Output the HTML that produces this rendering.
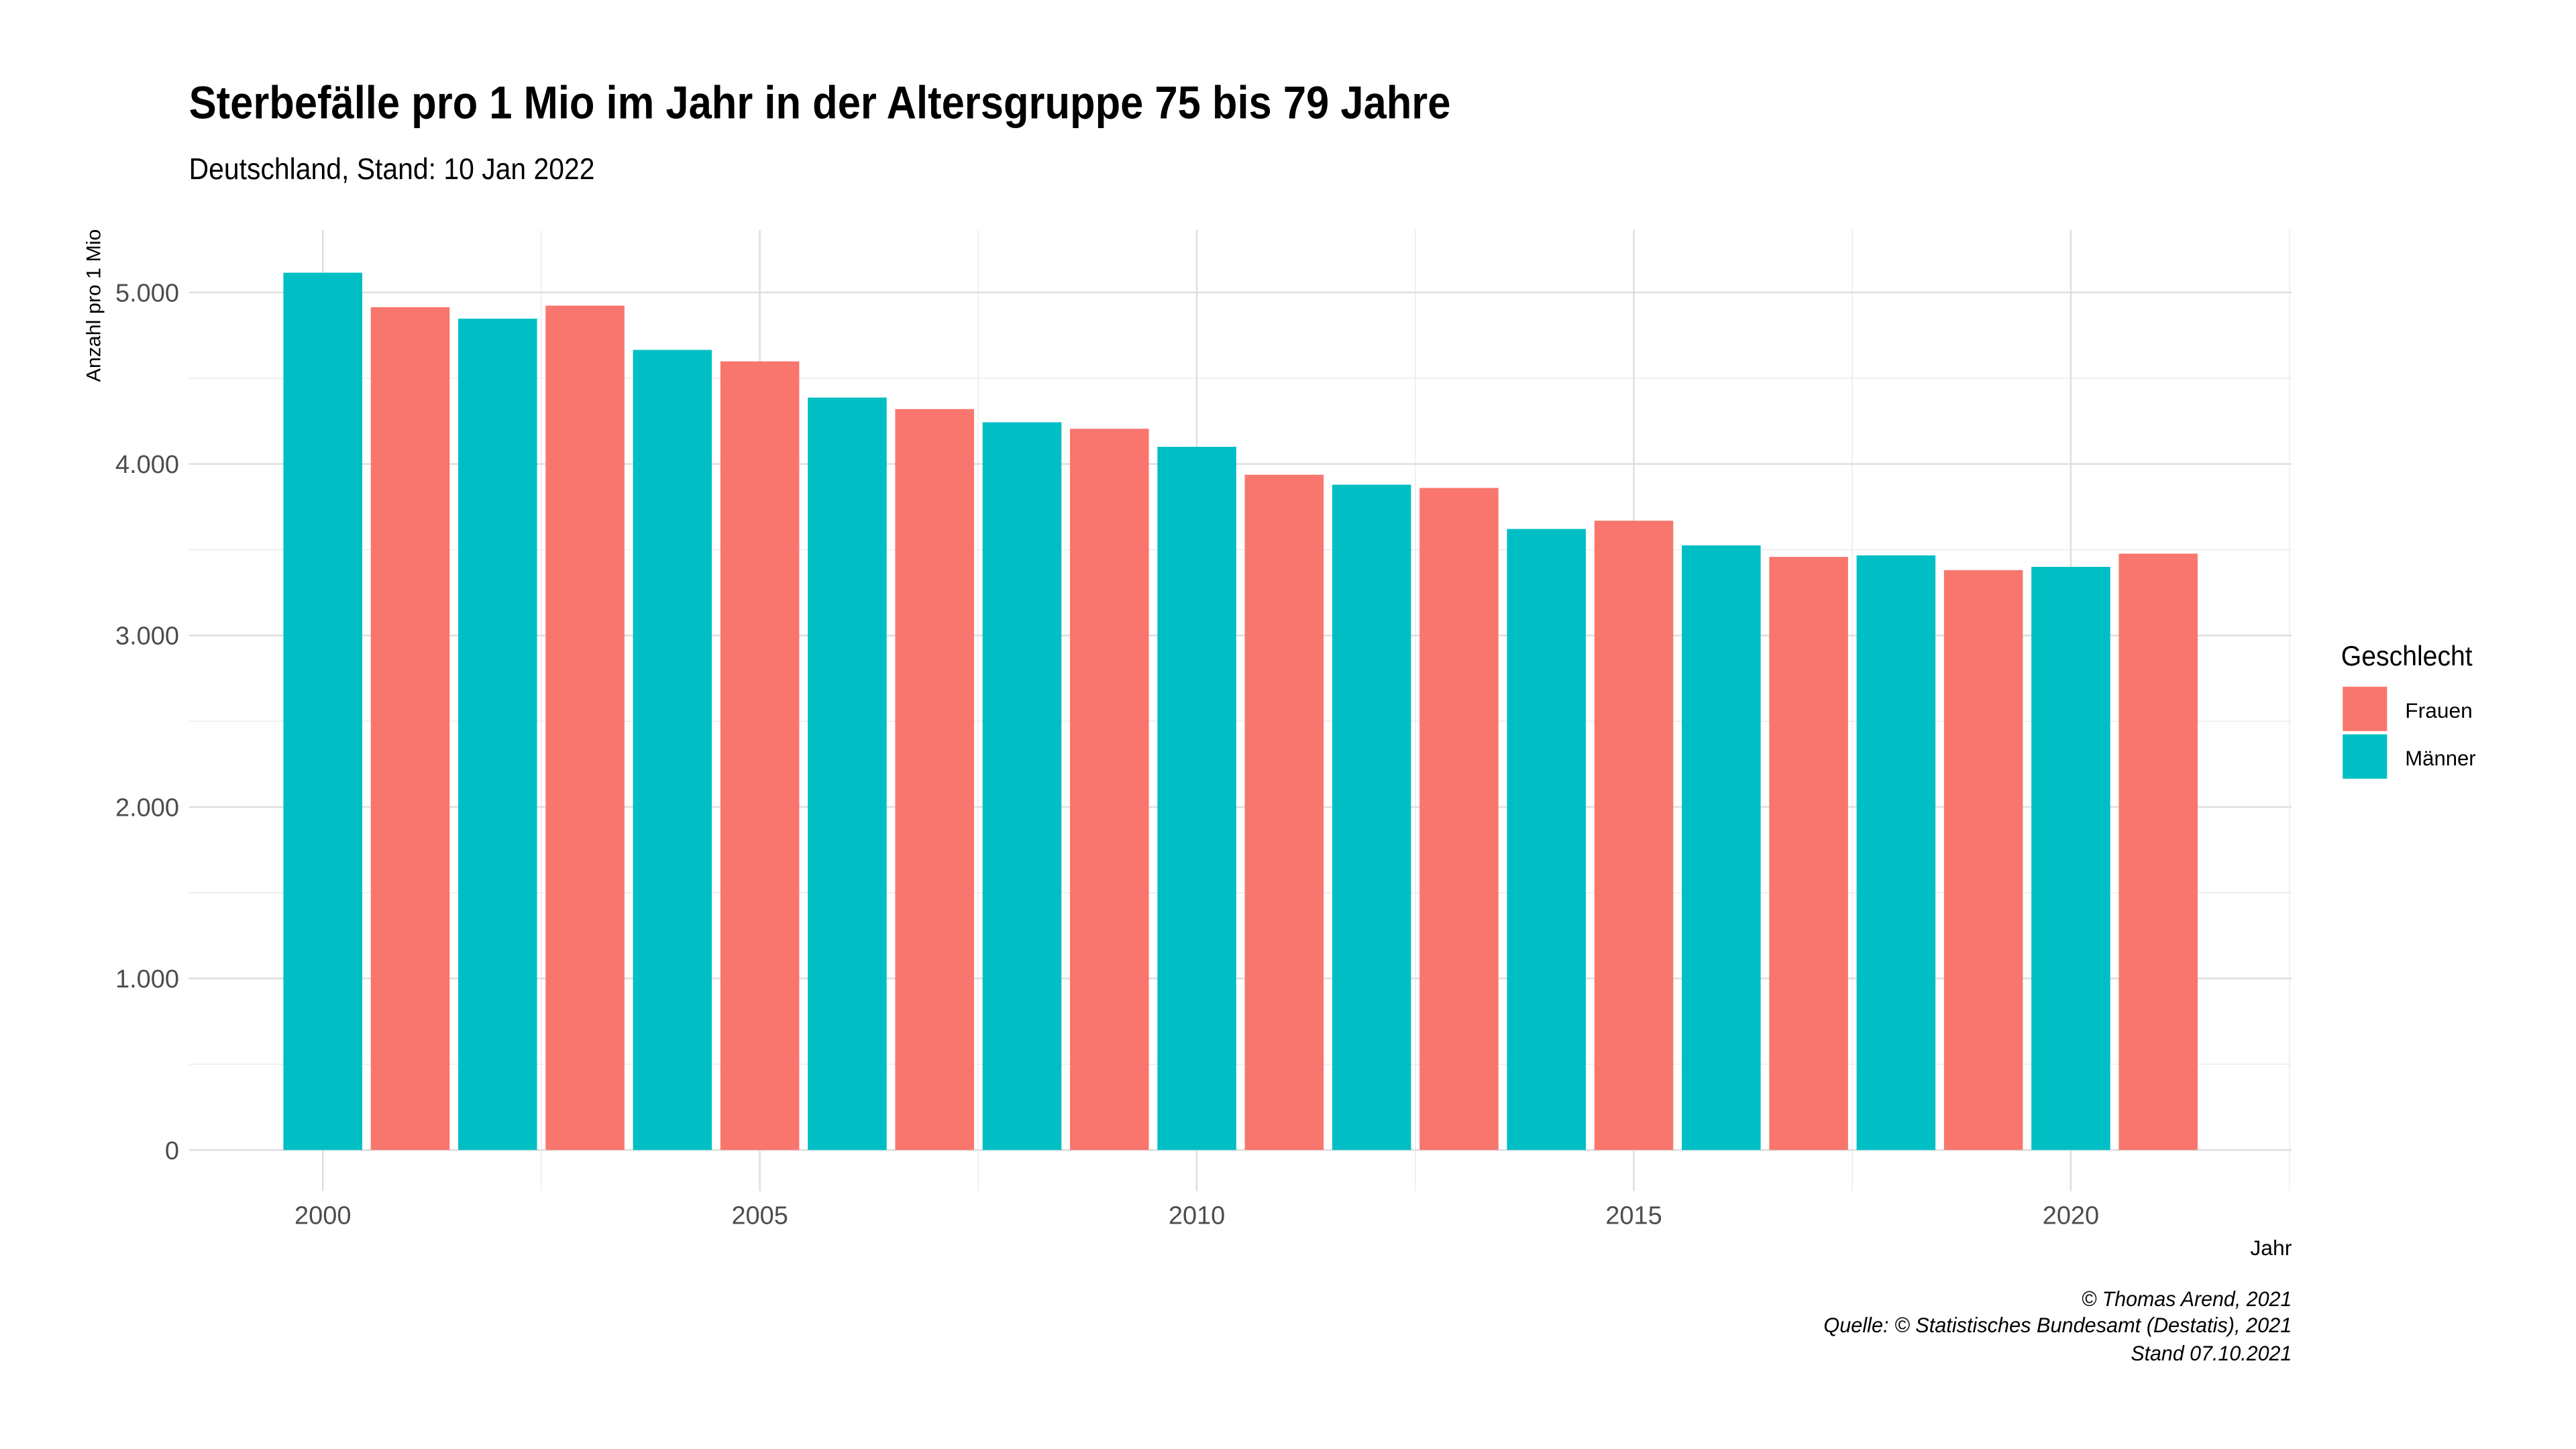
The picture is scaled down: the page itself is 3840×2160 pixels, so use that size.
<!DOCTYPE html>
<html><head><meta charset="utf-8"><style>
html,body{margin:0;padding:0;background:#fff;}
svg{display:block;font-family:"Liberation Sans",sans-serif;}
</style></head><body>
<svg id="chart" width="3840" height="2160" viewBox="0 0 1568 882" xmlns="http://www.w3.org/2000/svg">
<text x="115" y="72" font-size="28" font-weight="bold" textLength="768" lengthAdjust="spacingAndGlyphs">Sterbefälle pro 1 Mio im Jahr in der Altersgruppe 75 bis 79 Jahre</text>
<text x="115" y="109" font-size="18" textLength="247" lengthAdjust="spacingAndGlyphs">Deutschland, Stand: 10 Jan 2022</text>
<g id="grid"></g>
<g id="bars"></g>
<g id="axes"></g>
<text transform="translate(61,186) rotate(-90)" text-anchor="middle" font-size="12" textLength="93" lengthAdjust="spacingAndGlyphs">Anzahl pro 1 Mio</text>
<text x="1395" y="764" text-anchor="end" font-size="13">Jahr</text>
<g>
<text x="1425" y="405" font-size="17" textLength="80" lengthAdjust="spacingAndGlyphs">Geschlecht</text>
<rect x="1426" y="418" width="27" height="27" fill="#F8766D"/>
<text x="1464" y="437" font-size="13" textLength="41" lengthAdjust="spacingAndGlyphs">Frauen</text>
<rect x="1426" y="447" width="27" height="27" fill="#00BFC4"/>
<text x="1464" y="466" font-size="13" textLength="43" lengthAdjust="spacingAndGlyphs">Männer</text>
</g>
<g font-size="13" font-style="italic" text-anchor="end">
<text x="1395" y="795" textLength="128" lengthAdjust="spacingAndGlyphs">© Thomas Arend, 2021</text>
<text x="1395" y="811" textLength="285" lengthAdjust="spacingAndGlyphs">Quelle: © Statistisches Bundesamt (Destatis), 2021</text>
<text x="1395" y="828" textLength="98" lengthAdjust="spacingAndGlyphs">Stand 07.10.2021</text>
</g>
</svg>
<script>
const years=[2000,2001,2002,2003,2004,2005,2006,2007,2008,2009,2010,2011,2012,2013,2014,2015,2016,2017,2018,2019,2020,2021];
const values=[5115,4914,4847,4923,4665,4598,4387,4320,4243,4205,4100,3937,3879,3860,3621,3669,3525,3458,3467,3381,3400,3477];
const genders=["M","F","M","F","M","F","M","F","M","F","M","F","M","F","M","F","M","F","M","F","M","F"];
const yTicks=[0,1000,2000,3000,4000,5000];
const yTickLabels=["0","1.000","2.000","3.000","4.000","5.000"];
const xTicks=[2000,2005,2010,2015,2020];
const xTickLabels=["2000","2005","2010","2015","2020"];

const NS="http://www.w3.org/2000/svg";
const L=115,R=1395,T=140,B=725;
const xs=y=>196.5+(y-2000)*53.2;
const ys=v=>700-v*0.1044;
const bw=48;
function mk(tag,attrs,parent){const e=document.createElementNS(NS,tag);for(const k in attrs)e.setAttribute(k,attrs[k]);parent.appendChild(e);return e;}
const grid=document.getElementById('grid'),bars=document.getElementById('bars'),axes=document.getElementById('axes');
for(let v=500;v<=5500;v+=1000){const y=ys(v);if(y<T)continue;
 const l=mk('line',{x1:L,x2:R,y1:y,y2:y,stroke:'#ebebeb','stroke-width':0.6},grid);
 
 }
for(let yr=1997.5;yr<=2022.5;yr+=5){const x=xs(yr);if(x<L||x>R)continue;
 const l=mk('line',{x1:x,x2:x,y1:T,y2:B,stroke:'#ebebeb','stroke-width':0.6},grid);
 
 }
yTicks.forEach((v,i)=>{const y=ys(v);
 const l=mk('line',{x1:L,x2:R,y1:y,y2:y,stroke:'#dedede','stroke-width':1},grid);
 
 
 const t=mk('text',{x:109,y:y+5.5,'text-anchor':'end','font-size':15.5,fill:'#4d4d4d'},axes);t.textContent=yTickLabels[i];
 
 });
xTicks.forEach((yr,i)=>{const x=xs(yr);
 const l=mk('line',{x1:x,x2:x,y1:T,y2:B,stroke:'#dedede','stroke-width':1},grid);
 
 
 const t=mk('text',{x:x,y:745,'text-anchor':'middle','font-size':15.5,fill:'#4d4d4d'},axes);t.textContent=xTickLabels[i];
 
 });
years.forEach((yr,i)=>{const x=xs(yr)-bw/2,y=ys(values[i]);
 const r=mk('rect',{x:x,y:y,width:bw,height:ys(0)-y,fill:genders[i]==="F"?"#F8766D":"#00BFC4"},bars);
 
 });
</script>
</body></html>
